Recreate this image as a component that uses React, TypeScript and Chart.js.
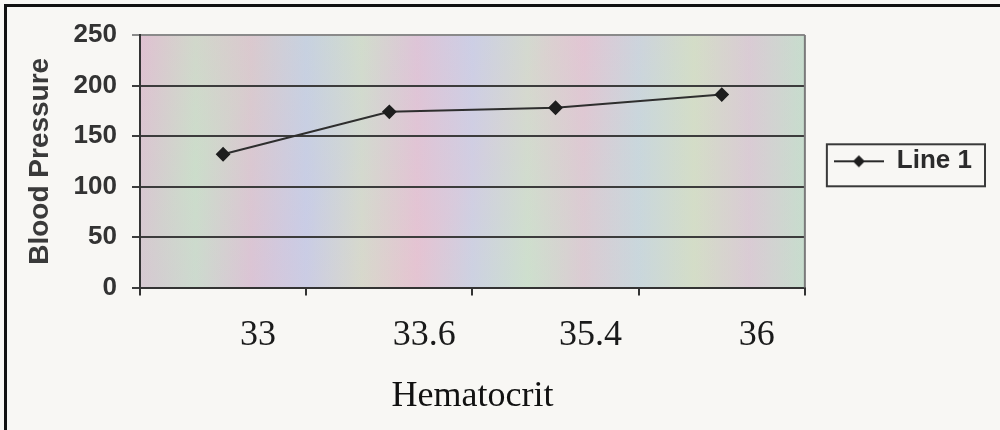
import React, { useEffect, useRef } from "react";
import { Chart, registerables } from "chart.js";

Chart.register(...registerables);

const categories = ["33", "33.6", "35.4", "36"];
const bloodPressure = [132, 174, 178, 191];
const seriesLabel = "Line 1";
const yTicks = [0, 50, 100, 150, 200, 250];
const xTitle = "Hematocrit";
const yTitle = "Blood Pressure";

const SANS = "'Liberation Sans', Arial, sans-serif";
const SERIF = "'Liberation Serif', 'Times New Roman', serif";

export default function App() {
  const ref = useRef<HTMLCanvasElement>(null);

  useEffect(() => {
    document.body.style.margin = "0";
    const canvas = ref.current;
    if (!canvas) return;

    const icon = document.createElement("canvas");
    icon.width = 50;
    icon.height = 16;
    const ic = icon.getContext("2d")!;
    ic.strokeStyle = "#2a2a2a";
    ic.lineWidth = 2;
    ic.beginPath();
    ic.moveTo(0, 8);
    ic.lineTo(50, 8);
    ic.stroke();
    ic.fillStyle = "#1e1e1e";
    ic.beginPath();
    ic.moveTo(25, 2);
    ic.lineTo(31, 8);
    ic.lineTo(25, 14);
    ic.lineTo(19, 8);
    ic.closePath();
    ic.fill();

    const bgPlugin = {
      id: "bgPlugin",
      beforeDraw(chart: any) {
        const { ctx, chartArea: a, width, height } = chart;
        ctx.save();
        ctx.fillStyle = "#f8f7f4";
        ctx.fillRect(0, 0, width, height);
        const w = a.right - a.left;
        const h = a.bottom - a.top;
        const g = ctx.createLinearGradient(a.left, 0, a.right, 0);
        const cols = [
          "#dcc3d3", "#cfdccb", "#e0c4d0", "#c9cfe4", "#d5dfc8", "#e3c5d2",
          "#cad2e6", "#cfe0cd", "#e1c6d4", "#cbd4e0", "#d8dcc6", "#dfc6d6", "#c8dccd",
        ];
        cols.forEach((c, i) => g.addColorStop(i / (cols.length - 1), c));
        ctx.fillStyle = g;
        ctx.fillRect(a.left, a.top, w, h);
        const d = ctx.createLinearGradient(a.left, a.top, a.left + w * 0.6, a.bottom);
        d.addColorStop(0, "rgba(235,185,205,0.25)");
        d.addColorStop(0.25, "rgba(190,225,200,0.2)");
        d.addColorStop(0.5, "rgba(200,195,235,0.2)");
        d.addColorStop(0.75, "rgba(235,190,210,0.22)");
        d.addColorStop(1, "rgba(195,225,205,0.2)");
        ctx.fillStyle = d;
        ctx.fillRect(a.left, a.top, w, h);
        ctx.fillStyle = "#111";
        ctx.fillRect(4, 4, 3, height);
        ctx.fillRect(4, 4, width, 3);
        ctx.restore();
      },
      afterDraw(chart: any) {
        const { ctx, chartArea: a } = chart;
        ctx.save();
        ctx.strokeStyle = "#7a7a7a";
        ctx.lineWidth = 2;
        ctx.beginPath();
        ctx.moveTo(a.right, a.top);
        ctx.lineTo(a.right, a.bottom);
        ctx.stroke();
        const hb = chart.legend && chart.legend.legendHitBoxes && chart.legend.legendHitBoxes[0];
        if (hb) {
          ctx.strokeStyle = "#3a3a3a";
          ctx.lineWidth = 2;
          const cy = hb.top + hb.height / 2 + 4;
          ctx.strokeRect(hb.left - 7, cy - 21, hb.width + 20, 42);
        }
        ctx.restore();
      },
    };

    const chart = new Chart(canvas, {
      type: "line",
      data: {
        labels: categories,
        datasets: [
          {
            label: seriesLabel,
            data: bloodPressure,
            borderColor: "#2e2e2e",
            borderWidth: 2,
            pointStyle: "rectRot",
            pointRadius: 6,
            pointBackgroundColor: "#1e1e1e",
            pointBorderColor: "#1e1e1e",
            tension: 0,
          },
        ],
      },
      options: {
        animation: false,
        responsive: false,
        devicePixelRatio: 1,
        layout: { padding: { left: 10, top: 35, right: 18, bottom: 12 } },
        plugins: {
          legend: {
            position: "right",
            align: "center",
            fullSize: false,
            labels: {
              usePointStyle: true,
              pointStyle: icon as any,
              pointStyleWidth: 50,
              padding: 29,
              color: "#2b2b2b",
              font: { family: SANS, size: 26, weight: "bold" },
            },
          },
          tooltip: { enabled: false },
        },
        scales: {
          x: {
            type: "category",
            offset: true,
            grid: {
              offset: true,
              drawOnChartArea: false,
              drawTicks: true,
              tickLength: 8,
              color: "#333",
              lineWidth: 2,
            },
            border: { display: true, color: "#333", width: 2 },
            ticks: {
              labelOffset: 35,
              padding: 18,
              color: "#1a1a1a",
              font: { family: SERIF, size: 36 },
            },
            title: {
              display: true,
              text: xTitle,
              color: "#111",
              font: { family: SERIF, size: 36 },
              padding: { top: 0, bottom: 0 },
            },
          },
          y: {
            min: 0,
            max: 250,
            afterBuildTicks: (axis: any) => {
              axis.ticks = yTicks.map((v) => ({ value: v }));
            },
            ticks: {
              padding: 15,
              color: "#333",
              font: { family: SANS, size: 26, weight: "bold" },
            },
            grid: {
              color: (c: any) => (c.tick && c.tick.value === 250 ? "#8a8a8a" : "#3c3c3c"),
              lineWidth: 2,
              tickLength: 8,
              drawTicks: true,
            },
            border: { display: true, color: "#333", width: 2 },
            title: {
              display: true,
              text: yTitle,
              color: "#3a3a3a",
              font: { family: SANS, size: 28, weight: "bold" },
              padding: { top: 13, bottom: 2 },
            },
          },
        },
      },
      plugins: [bgPlugin],
    } as any);

    return () => chart.destroy();
  }, []);

  return (
    <canvas
      ref={ref}
      width={1000}
      height={430}
      style={{ display: "block", width: 1000, height: 430 }}
    />
  );
}
